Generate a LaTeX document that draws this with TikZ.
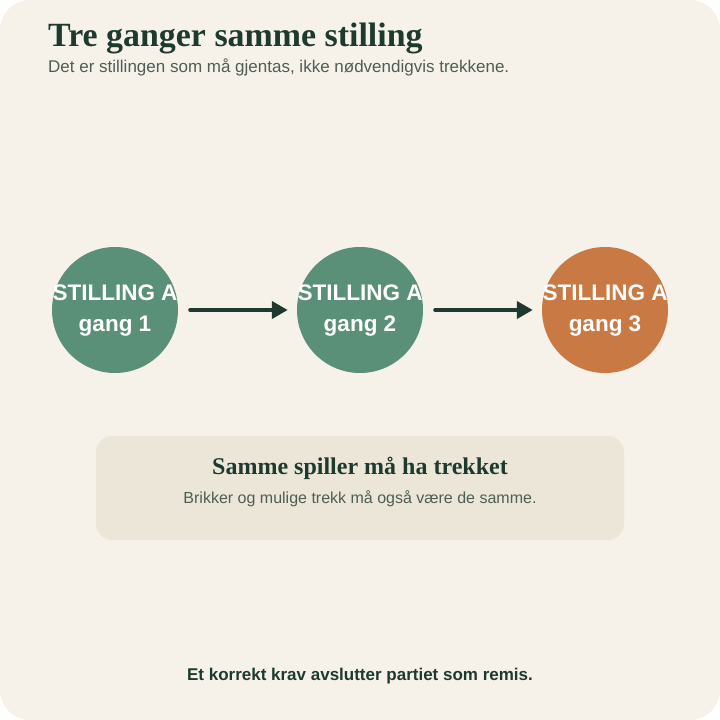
\documentclass[tikz,border=0pt]{standalone}
\usepackage{fontspec}
\setmainfont{Liberation Sans}
\newfontfamily\serifb{Liberation Serif}
\usetikzlibrary{arrows.meta}
\definecolor{bgpage}{HTML}{F6F2EA}
\definecolor{ink}{HTML}{1E3A2E}
\definecolor{subink}{HTML}{4E5E54}
\definecolor{greenc}{HTML}{5A8F78}
\definecolor{orangec}{HTML}{C87944}
\definecolor{boxc}{HTML}{EBE6D7}
\tikzset{
  circ/.style={circle, minimum size=126pt, inner sep=0pt, draw=none},
  circtext/.style={text=white, font=\bfseries\fontsize{22.5}{31}\selectfont, align=center, inner sep=0pt},
  flow/.style={draw=ink, line width=4pt, line cap=round, -{Triangle[length=16pt,width=17pt]}},
  txt/.style={anchor=base west, inner sep=0pt},
  ctxt/.style={anchor=base, inner sep=0pt}
}
\begin{document}
\begin{tikzpicture}[x=1pt,y=-1pt]
\useasboundingbox (0,0) rectangle (720,720);
\fill[white] (0,0) rectangle (720,720);
\fill[bgpage, rounded corners=30pt] (0,0) rectangle (720,720);
% title
\node[txt, text=ink, font=\serifb\bfseries\fontsize{33.9}{38}\selectfont] (title) at (48,46) {Tre ganger samme stilling};
\node[txt, text=subink, font=\fontsize{17}{20}\selectfont] (sub) at (48,72) {Det er stillingen som må gjentas, ikke nødvendigvis trekkene.};
% circles
\node[circ, fill=greenc] (c1) at (115,310) {};
\node[circ, fill=greenc] (c2) at (360,310) {};
\node[circ, fill=orangec] (c3) at (605,310) {};
\node[circtext] (t1) at (115,310.5) {STILLING A\\gang 1};
\node[circtext] (t2) at (360,310.5) {STILLING A\\gang 2};
\node[circtext] (t3) at (605,310.5) {STILLING A\\gang 3};
\draw[flow, shorten <=12pt, shorten >=9pt] (c1) -- (c2);
\draw[flow, shorten <=12pt, shorten >=9pt] (c2) -- (c3);
% box
\node[fill=boxc, rounded corners=16pt, minimum width=528pt, minimum height=104pt, inner sep=0pt] (box) at (360,488) {};
\node[ctxt, text=ink, font=\serifb\bfseries\fontsize{24}{28}\selectfont] (boxtitle) at (360,474) {Samme spiller må ha trekket};
\node[ctxt, text=subink, font=\fontsize{16}{19}\selectfont] (boxtext) at (360,503) {Brikker og mulige trekk må også være de samme.};
% footer
\node[ctxt, text=ink, font=\bfseries\fontsize{17}{20}\selectfont] (foot) at (360,680) {Et korrekt krav avslutter partiet som remis.};
\end{tikzpicture}
\end{document}
